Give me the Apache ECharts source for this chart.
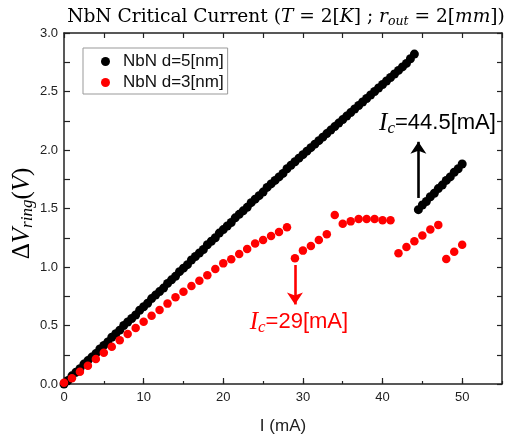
<!DOCTYPE html>
<html><head><meta charset="utf-8">
<script src="https://cdn.jsdelivr.net/npm/echarts@6/dist/echarts.min.js"></script>
<style>html,body{margin:0;padding:0;background:#fff}#c{width:510px;height:442px}</style>
</head><body><div id="c"></div>
<script>
// ---- data (I in mA, ΔV in V) ----
const seriesNames = ['NbN d=5[nm]', 'NbN d=3[nm]'];
const xTickLabels = [0, 10, 20, 30, 40, 50];
const yTickLabels = ['0.0','0.5','1.0','1.5','2.0','2.5','3.0'];

const d5Below = [
 [0,0.00],[0.5,0.03],[1,0.07],[1.5,0.10],[2,0.13],[2.5,0.17],[3,0.20],[3.5,0.23],[4,0.26],[4.5,0.30],
 [5,0.33],[5.5,0.36],[6,0.40],[6.5,0.43],[7,0.46],[7.5,0.50],[8,0.53],[8.5,0.56],[9,0.59],[9.5,0.63],
 [10,0.66],[10.5,0.69],[11,0.73],[11.5,0.76],[12,0.79],[12.5,0.82],[13,0.86],[13.5,0.89],[14,0.92],[14.5,0.96],
 [15,0.99],[15.5,1.02],[16,1.06],[16.5,1.09],[17,1.12],[17.5,1.15],[18,1.19],[18.5,1.22],[19,1.25],[19.5,1.29],
 [20,1.32],[20.5,1.35],[21,1.38],[21.5,1.42],[22,1.45],[22.5,1.48],[23,1.51],[23.5,1.55],[24,1.58],[24.5,1.61],
 [25,1.64],[25.5,1.68],[26,1.71],[26.5,1.74],[27,1.77],[27.5,1.80],[28,1.84],[28.5,1.87],[29,1.90],[29.5,1.93],
 [30,1.96],[30.5,1.99],[31,2.02],[31.5,2.05],[32,2.08],[32.5,2.11],[33,2.14],[33.5,2.17],[34,2.20],[34.5,2.23],
 [35,2.26],[35.5,2.29],[36,2.32],[36.5,2.35],[37,2.38],[37.5,2.41],[38,2.44],[38.5,2.47],[39,2.50],[39.5,2.53],
 [40,2.56],[40.5,2.59],[41,2.62],[41.5,2.65],[42,2.68],[42.5,2.71],[43,2.74],[43.5,2.78],[44,2.82]
];
const d5Above = [
 [44.5,1.49],[45,1.53],[45.5,1.56],[46,1.60],[46.5,1.63],[47,1.67],[47.5,1.70],[48,1.74],[48.5,1.77],[49,1.81],[49.5,1.84],[50,1.88]
];
const d3Points = [
 [0,0.01],[1,0.05],[2,0.105],[3,0.157],[4,0.214],[5,0.268],[6,0.319],[7,0.373],[8,0.427],[9,0.479],
 [10,0.533],[11,0.584],[12,0.632],[13,0.687],[14,0.741],[15,0.789],[16,0.838],[17,0.883],[18,0.929],[19,0.983],
 [20,1.031],[21,1.066],[22,1.111],[23,1.154],[24,1.20],[25,1.23],[26,1.265],[27,1.30],[28,1.34],[29,1.074],
 [30,1.14],[31,1.18],[32,1.23],[33,1.28],[34,1.444],[35,1.37],[36,1.39],[37,1.41],[38,1.41],[39,1.41],
 [40,1.40],[41,1.40],[42,1.117],[43,1.17],[44,1.22],[45,1.27],[46,1.32],[47,1.36],[48,1.068],[49,1.13],[50,1.19]
];
// annotations: [x, y] in data units
const icBlackText = [46.9, 2.23];
const icBlackArrow = [[44.5, 1.59], [44.5, 2.07]];
const icRedText = [29.5, 0.53];
const icRedArrow = [[29, 1.017], [29, 0.68]];

const SANS = 'Liberation Sans';
const SERIF = 'DejaVu Serif';
const chart = echarts.init(document.getElementById('c'), null, {renderer: 'canvas'});

function icRich(color) {
  return {
    i: {fontFamily: 'Liberation Serif', fontStyle: 'italic', fontSize: 25, color: color, lineHeight: 28},
    s: {fontFamily: 'Liberation Serif', fontStyle: 'italic', fontSize: 17, color: color, lineHeight: 18, verticalAlign: 'bottom'},
    t: {fontFamily: SANS, fontSize: 22, color: color, lineHeight: 28}
  };
}

const option = {
  animation: false,
  backgroundColor: '#fff',
  title: {
    left: 281, top: 1, textAlign: 'center',
    text: '{n|NbN Critical Current (}{i|T}{n| = 2[}{i|K}{n|] ; }{i|r}{s|out}{n| = 2[}{i|mm}{n|])}',
    textStyle: {
      fontWeight: 'normal',
      rich: {
        n: {fontFamily: SERIF, fontSize: 18.6, fontWeight: 'normal', color: '#000', lineHeight: 22},
        i: {fontFamily: SERIF, fontSize: 18.6, fontWeight: 'normal', fontStyle: 'italic', color: '#000', lineHeight: 22},
        s: {fontFamily: SERIF, fontSize: 12.5, fontWeight: 'normal', fontStyle: 'italic', color: '#000', lineHeight: 15, verticalAlign: 'bottom'}
      }
    }
  },
  legend: {
    left: 83, top: 48, orient: 'vertical',
    data: seriesNames,
    icon: 'circle', itemWidth: 9, itemHeight: 9, itemGap: 4,
    padding: [5, 4, 3, 18],
    borderColor: '#999', borderWidth: 1,
    itemStyle: {opacity: 1},
    textStyle: {fontFamily: SANS, fontSize: 17, color: '#111', lineHeight: 16, padding: [0, 0, 0, 8]}
  },
  grid: {left: 64, right: 8, top: 33, bottom: 58, containLabel: false, outerBoundsMode: 'none'},
  xAxis: [
    {type: 'value', position: 'bottom', min: 0, max: 55, interval: 10,
     axisLine: {show: true, onZero: false, lineStyle: {color: '#222', width: 1.5}},
     axisTick: {show: true, inside: true, length: 6, lineStyle: {color: '#222', width: 1.2}},
     axisLabel: {show: true, fontFamily: SANS, fontSize: 13, color: '#222', margin: 7, showMaxLabel: false,
       formatter: v => (xTickLabels.indexOf(v) >= 0 ? String(v) : '')},
     splitLine: {show: false},
     name: 'I (mA)', nameLocation: 'middle', nameGap: 34, nameMoveOverlap: false,
     nameTextStyle: {fontFamily: SANS, fontSize: 17, color: '#222'}},
    {type: 'value', position: 'bottom', min: 0, max: 55, interval: 5,
     axisLine: {show: false}, axisLabel: {show: false}, splitLine: {show: false},
     axisTick: {show: true, inside: true, length: 3, lineStyle: {color: '#222', width: 1.2}}},
    {type: 'value', position: 'top', min: 0, max: 55, interval: 5,
     axisLine: {show: true, onZero: false, lineStyle: {color: '#222', width: 1.5}},
     axisLabel: {show: false}, splitLine: {show: false},
     axisTick: {show: true, inside: true, length: 5, lineStyle: {color: '#222', width: 1.2}}}
  ],
  yAxis: [
    {type: 'value', position: 'left', min: 0, max: 3, interval: 0.5,
     axisLine: {show: true, onZero: false, lineStyle: {color: '#222', width: 1.5}},
     axisTick: {show: true, inside: true, length: 6, lineStyle: {color: '#222', width: 1.2}},
     minorTick: {show: true, splitNumber: 2, length: 6, lineStyle: {color: '#222', width: 1.2}},
     axisLabel: {show: true, fontFamily: SANS, fontSize: 13, color: '#222', margin: 6,
       formatter: v => yTickLabels[Math.round(v * 2)] || ''},
     splitLine: {show: false}, minorSplitLine: {show: false},
     name: '{d|Δ}{i|V}{s|ring}{n|(}{i|V}{n|)}', nameLocation: 'middle', nameRotate: 90, nameGap: 28,
     nameMoveOverlap: false,
     nameTextStyle: {
       padding: [0, 10, 0, 0],
       rich: {
         d: {fontFamily: 'Liberation Serif', fontSize: 25, color: '#000', lineHeight: 28},
         n: {fontFamily: 'Liberation Serif', fontSize: 25, color: '#000', lineHeight: 28},
         i: {fontFamily: 'Liberation Serif', fontSize: 25, fontStyle: 'italic', color: '#000', lineHeight: 28},
         s: {fontFamily: 'Liberation Serif', fontSize: 17, fontStyle: 'italic', color: '#000', lineHeight: 18, verticalAlign: 'bottom'}
       }
     }},
    {type: 'value', position: 'right', min: 0, max: 3, interval: 0.25,
     axisLine: {show: true, onZero: false, lineStyle: {color: '#222', width: 1.5}},
     axisLabel: {show: false}, splitLine: {show: false},
     axisTick: {show: true, inside: true, length: 5, lineStyle: {color: '#222', width: 1.2}}}
  ],
  series: [
    {name: seriesNames[0], type: 'scatter', xAxisIndex: 0, yAxisIndex: 0,
     data: d5Below.concat(d5Above), symbol: 'circle', symbolSize: 9,
     itemStyle: {color: '#000', opacity: 1},
     markPoint: {
       silent: true, symbol: 'circle', symbolSize: 0,
       data: [{coord: icBlackText, label: {show: true, position: 'inside',
         formatter: '{i|I}{s|c}{t|=44.5[mA]}', rich: icRich('#000')}}]
     },
     markLine: {
       silent: true, symbol: ['none', 'arrow'], symbolSize: 12,
       label: {show: false}, lineStyle: {color: '#000', width: 2.6, type: 'solid'},
       data: [[{coord: icBlackArrow[0]}, {coord: icBlackArrow[1]}]]
     }},
    {name: seriesNames[1], type: 'scatter', xAxisIndex: 0, yAxisIndex: 0,
     data: d3Points, symbol: 'circle', symbolSize: 8.5,
     itemStyle: {color: '#ff0000', opacity: 1},
     markPoint: {
       silent: true, symbol: 'circle', symbolSize: 0,
       data: [{coord: icRedText, label: {show: true, position: 'inside',
         formatter: '{i|I}{s|c}{t|=29[mA]}', rich: icRich('#ff0000')}}]
     },
     markLine: {
       silent: true, symbol: ['none', 'arrow'], symbolSize: 12,
       label: {show: false}, lineStyle: {color: '#ff0000', width: 2.6, type: 'solid'},
       data: [[{coord: icRedArrow[0]}, {coord: icRedArrow[1]}]]
     }}
  ]
};
chart.setOption(option);
</script>
</body></html>
